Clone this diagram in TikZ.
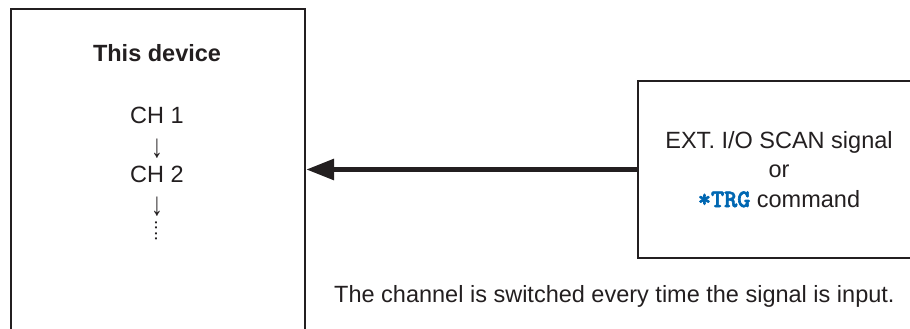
\documentclass[tikz,border=0pt]{standalone}
\usepackage{fontspec}
\setmainfont{Liberation Sans}
\newfontfamily\cmdfont[FakeBold=2.5]{lmmonolt10-bold.otf}
\usetikzlibrary{arrows.meta,positioning}
\definecolor{inkgray}{RGB}{35,31,32}
\definecolor{cmdblue}{RGB}{0,103,178}

\begin{document}
\begin{tikzpicture}[x=1pt, y=-1pt,
    framebox/.style={rectangle, draw=inkgray, line width=2pt, inner sep=0pt},
    label/.style={font=\fontsize{23.5}{29.5}\selectfont, text=inkgray, inner sep=0pt},
    flow/.style={line width=5.5pt, draw=inkgray,
                 -{Triangle[length=28pt, width=20pt]}}
]
\useasboundingbox (0,0) rectangle (910,329);
\clip (0,0) rectangle (910,329);

% Boxes (open at the page edges)
\node[framebox, anchor=north west, minimum width=294pt, minimum height=360pt] (dev) at (10,8) {};
\node[framebox, anchor=north west, minimum width=320pt, minimum height=177pt] (src) at (637,80) {};

% Channel sequence inside the device
\node[label, anchor=base, font=\fontsize{23.5}{29.5}\selectfont\bfseries] (title) at (157,62) {This device};
\node[label, anchor=base] (ch1) at (157,123) {CH 1};
\node[label, anchor=base] (arr1) at (157,157) {\scalebox{1}[1.4]{↓}};
\node[label, anchor=base] (ch2) at (157,182) {CH 2};
\node[label, anchor=base] (arr2) at (157,215) {\scalebox{1}[1.4]{↓}};
\node[label, font=\fontsize{19}{19}\selectfont] (dots) at (156,231) {\rotatebox{90}{....}};

% Trigger source
\node[label, align=center, anchor=base] (trig) at (779,207)
     {EXT. I/O SCAN signal\\or\\{\color{cmdblue}\cmdfont\fontsize{25}{29.5}\selectfont *TRG} command};

\draw[flow] (src.west) -- (src.west -| dev.east);

\node[label, anchor=base west] (note) at (334,302)
     {The channel is switched every time the signal is input.};
\end{tikzpicture}
\end{document}
